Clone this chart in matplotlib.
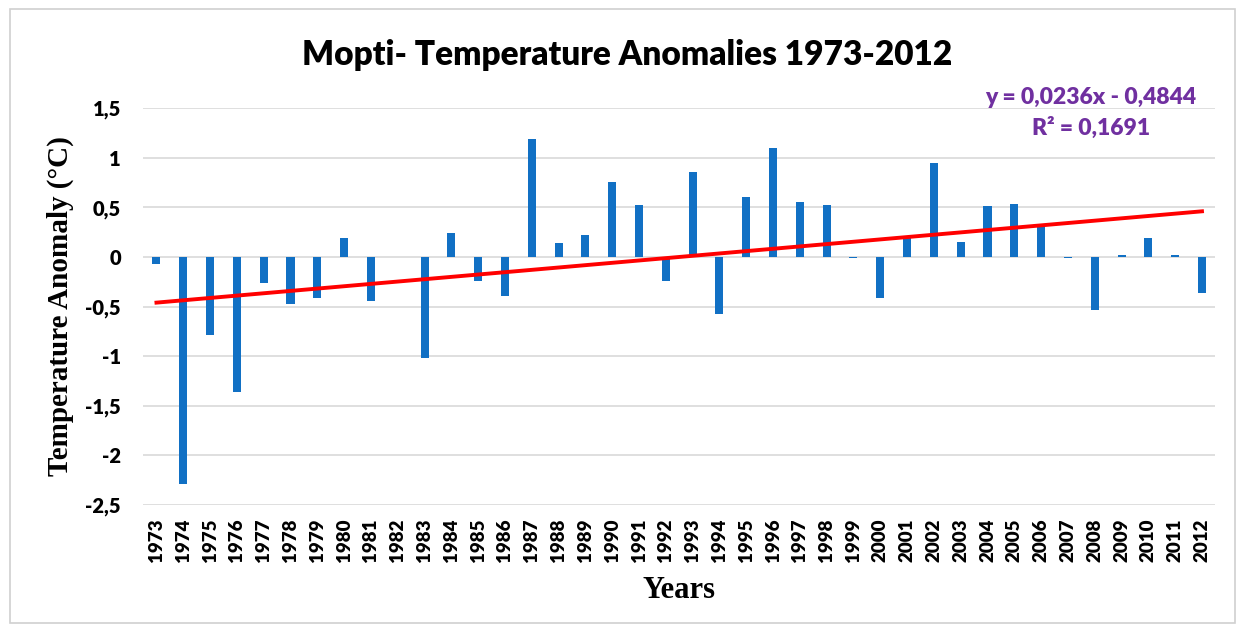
import numpy as np
import matplotlib.pyplot as plt
from matplotlib.patches import Rectangle

# данные: аномалии температуры, Мопти
years = list(range(1973, 2013))
anomalies = [-0.07, -2.29, -0.79, -1.36, -0.26, -0.47, -0.41, 0.19, -0.44, 0.0,
             -1.02, 0.24, -0.24, -0.39, 1.19, 0.14, 0.22, 0.75, 0.52, -0.24,
             0.86, -0.58, 0.60, 1.10, 0.55, 0.52, -0.01, -0.41, 0.19, 0.95,
             0.15, 0.51, 0.53, 0.31, -0.01, -0.54, 0.02, 0.19, 0.02, -0.36]
slope = 0.0236
intercept = -0.4844
r2 = 0.1691
yticks = [-2.5, -2, -1.5, -1, -0.5, 0, 0.5, 1, 1.5]

fig = plt.figure(figsize=(12.44, 6.32), dpi=100)
ax = fig.add_axes([0.115, 0.201, 0.862, 0.628])

x = np.arange(len(years))
ax.bar(x, anomalies, width=0.3, color='#1170C4', zorder=2)

# линия тренда
xt = np.array([1, len(years)])
ax.plot(xt - 1, slope * xt + intercept, color='#FF0000', linewidth=2.8, zorder=3)

ax.set_xlim(-0.5, len(years) - 0.5)
ax.set_ylim(-2.5, 1.5)
ax.set_yticks(yticks)
ax.set_yticklabels([f'{v:g}'.replace('.', ',') for v in yticks],
                   fontsize=14.5, fontweight='heavy', family='Lato')
ax.set_xticks(x)
ax.set_xticklabels([str(y) for y in years], rotation=90,
                   fontsize=13.5, fontweight='heavy', family='Lato')
ax.tick_params(axis='y', length=0, pad=16)
ax.tick_params(axis='x', length=0, pad=10)
ax.grid(axis='y', color='#D9D9D9', linewidth=1.2, zorder=0)
for s in ax.spines.values():
    s.set_visible(False)

ax.set_ylabel('Temperature Anomaly (°C)', fontsize=21, fontweight='bold',
              family='Liberation Serif', labelpad=8)
ax.set_xlabel('Years', fontsize=22, fontweight='bold',
              family='Liberation Serif', labelpad=10)

fig.text(0.504, 0.913, 'Mopti- Temperature Anomalies 1973-2012', ha='center',
         va='center', fontsize=24, fontweight='heavy', family='Lato')

eq = f'y = {slope:.4f}x - {abs(intercept):.4f}'.replace('.', ',')
fig.text(0.877, 0.845, eq, ha='center', va='center', fontsize=16.5,
         fontweight='heavy', color='#7030A0', family='Lato')
fig.text(0.877, 0.797, f'R² = {r2:.4f}'.replace('.', ','), ha='center',
         va='center', fontsize=16.5, fontweight='heavy', color='#7030A0',
         family='Lato')

# рамка вокруг графика
fig.patches.append(Rectangle((0.008, 0.015), 0.985, 0.97, transform=fig.transFigure,
                             fill=False, edgecolor='#D0D0D0', linewidth=1.2))

fig.savefig('out.png', dpi=100)
